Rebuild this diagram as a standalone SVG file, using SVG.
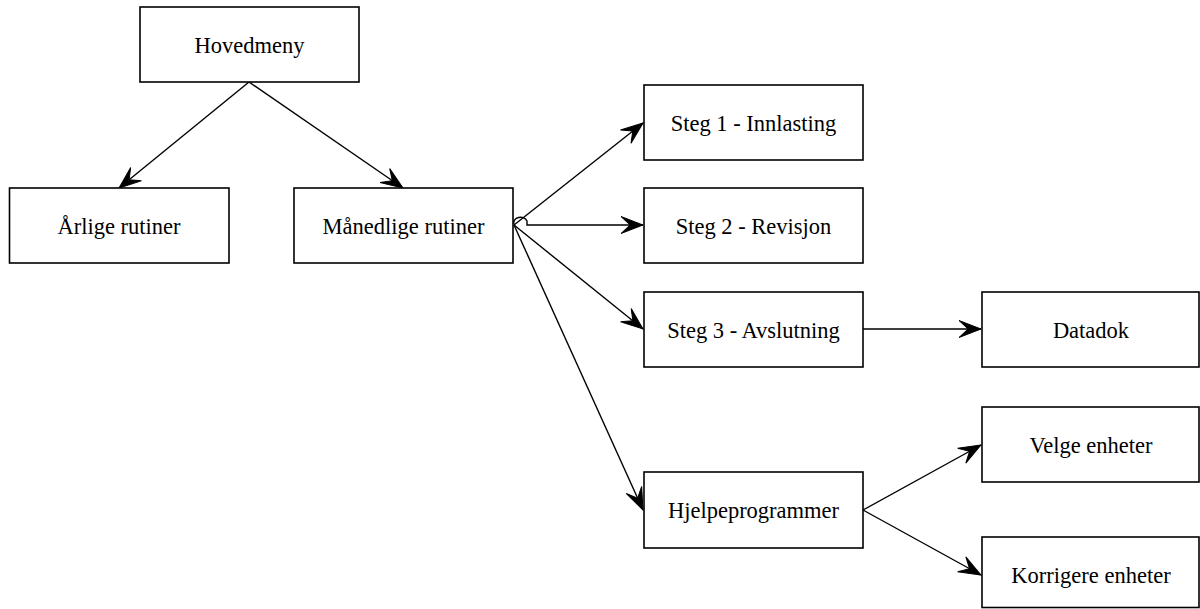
<svg xmlns="http://www.w3.org/2000/svg" width="1200" height="609" viewBox="0 0 1200 609">
<style>
.box{fill:#fff;stroke:#000;stroke-width:1.6}
.lbl{font-family:"Liberation Serif","Times New Roman",serif;font-size:22.5px;fill:#000;text-anchor:middle}
.con{fill:none;stroke:#000;stroke-width:1.4;marker-end:url(#ah)}
</style>
<defs>
<marker id="ah" markerUnits="userSpaceOnUse" markerWidth="30" markerHeight="24" refX="0" refY="0" viewBox="-24 -12 26 24" orient="auto">
<path d="M0,0 L-22,-8.5 L-13,0 L-22,8.5 Z" fill="#000" stroke="#000" stroke-width="1" stroke-linejoin="miter"/>
</marker>
</defs>
<rect width="1200" height="609" fill="#fff"/>
<g id="connectors">
<path class="con" d="M249,82 L119,188"/>
<path class="con" d="M249,82 L403,188"/>
<path class="con" d="M514,225 L643,123"/>
<path class="con" d="M514,224 A6.5,5 0 0 1 527,221 L527,225 L643,225"/>
<path class="con" d="M514,225 L643,329"/>
<path class="con" d="M514,225 L643,510"/>
<path class="con" d="M863,329 L981,329"/>
<path class="con" d="M863,510 L981,445"/>
<path class="con" d="M863,510 L981,575"/>
</g>
<g id="hovedmeny"><rect class="box" x="140" y="7" width="219" height="75"/><text class="lbl" x="249.5" y="53">Hovedmeny</text></g>
<g id="arlige"><rect class="box" x="9.5" y="188" width="219.5" height="75"/><text class="lbl" x="119" y="234">Årlige rutiner</text></g>
<g id="manedlige"><rect class="box" x="294" y="188" width="219" height="75"/><text class="lbl" x="403.5" y="234">Månedlige rutiner</text></g>
<g id="steg1"><rect class="box" x="644" y="85" width="219" height="75"/><text class="lbl" x="753.5" y="131">Steg 1 - Innlasting</text></g>
<g id="steg2"><rect class="box" x="644" y="188" width="219" height="75"/><text class="lbl" x="753.5" y="234">Steg 2 - Revisjon</text></g>
<g id="steg3"><rect class="box" x="644" y="292" width="219" height="75"/><text class="lbl" x="753.5" y="338">Steg 3 - Avslutning</text></g>
<g id="datadok"><rect class="box" x="982" y="292" width="217" height="75"/><text class="lbl" x="1091" y="338">Datadok</text></g>
<g id="hjelpeprogrammer"><rect class="box" x="644" y="472" width="219" height="76"/><text class="lbl" x="753.5" y="518">Hjelpeprogrammer</text></g>
<g id="velge"><rect class="box" x="982" y="407" width="217" height="75"/><text class="lbl" x="1091" y="453">Velge enheter</text></g>
<g id="korrigere"><rect class="box" x="982" y="537" width="217" height="70.5"/><text class="lbl" x="1091" y="583">Korrigere enheter</text></g>
</svg>
